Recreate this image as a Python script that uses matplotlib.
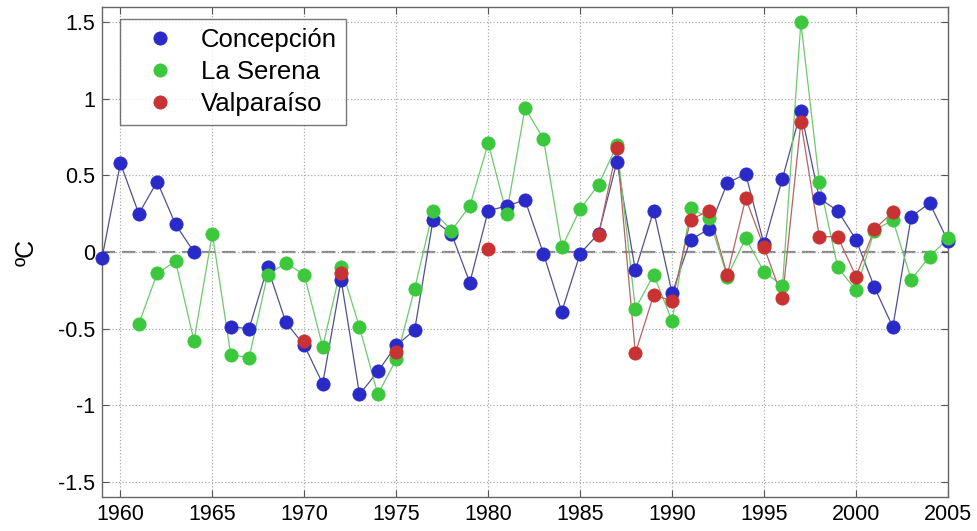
#!/usr/bin/env python3
"""Anomalias de temperatura - Concepción, La Serena, Valparaíso."""
import numpy as np
import matplotlib
matplotlib.use("Agg")
import matplotlib.pyplot as plt

nan = np.nan

anos = list(range(1959, 2006))

concepcion = [
    -0.04, 0.58, 0.25, 0.46, 0.18, 0.00, nan, -0.49, -0.50, -0.10,
    -0.46, -0.61, -0.86, -0.18, -0.93, -0.78, -0.61, -0.51, 0.21, 0.12,
    -0.20, 0.27, 0.30, 0.34, -0.01, -0.39, -0.01, 0.12, 0.59, -0.12,
    0.27, -0.27, 0.08, 0.15, 0.45, 0.51, 0.05, 0.48, 0.92, 0.35,
    0.27, 0.08, -0.23, -0.49, 0.23, 0.32, 0.07,
]

la_serena = [
    nan, nan, -0.47, -0.14, -0.06, -0.58, 0.12, -0.67, -0.69, -0.15,
    -0.07, -0.15, -0.62, -0.10, -0.49, -0.93, -0.70, -0.24, 0.27, 0.14,
    0.30, 0.71, 0.25, 0.94, 0.74, 0.03, 0.28, 0.44, 0.70, -0.37,
    -0.15, -0.45, 0.29, 0.22, -0.16, 0.09, -0.13, -0.22, 1.50, 0.46,
    -0.10, -0.25, 0.14, 0.21, -0.18, -0.03, 0.09,
]

valparaiso = [
    nan, nan, nan, nan, nan, nan, nan, nan, nan, nan,
    nan, -0.58, nan, -0.14, nan, nan, -0.65, nan, nan, nan,
    nan, 0.02, nan, nan, nan, nan, nan, 0.11, 0.68, -0.66,
    -0.28, -0.32, 0.21, 0.27, -0.15, 0.35, 0.03, -0.30, 0.85, 0.10,
    0.10, -0.16, 0.15, 0.26, nan, nan, nan,
]

series = [
    ("Concepción", concepcion, "#2a2ac8", "#50508c"),
    ("La Serena", la_serena, "#3cc83c", "#6ec86e"),
    ("Valparaíso", valparaiso, "#c83232", "#b46464"),
]


def main() -> None:
    plt.rcParams["font.family"] = ["Liberation Sans", "DejaVu Sans"]
    fig = plt.figure(figsize=(9.77, 5.31), dpi=100)
    ax = fig.add_axes([102 / 977, 1 - 497 / 531, 846 / 977, 490 / 531])

    for nome, valores, cor, cor_linha in series:
        v = np.array(valores, dtype=float)
        ax.plot(anos, v, "-", color=cor_linha, lw=0.9, zorder=2)
        ax.plot(anos, v, "o", color=cor, markersize=9.5,
                markeredgecolor=cor, markeredgewidth=0.6,
                label=nome, zorder=3, clip_on=False)

    ax.axhline(0, color="#888888", ls=(0, (6, 3)), lw=1.6, zorder=1)

    ax.set_xlim(1959, 2005)
    ax.set_ylim(-1.6, 1.6)
    ax.set_xticks(range(1960, 2006, 5))
    ax.set_yticks([-1.5, -1, -0.5, 0, 0.5, 1, 1.5])
    ax.set_yticklabels(["-1.5", "-1", "-0.5", "0", "0.5", "1", "1.5"])
    ax.grid(True, ls=":", color="#aaaaaa", lw=0.9)
    ax.tick_params(direction="in", top=True, right=True, length=5,
                   labelsize=15.5, color="#555555", pad=5)
    for s in ax.spines.values():
        s.set_color("#666666")
        s.set_linewidth(1.0)
    ax.set_ylabel("ºC", fontsize=18, labelpad=14)

    leg = ax.legend(loc="upper left", bbox_to_anchor=(18 / 846, 1 - 12 / 490),
                    fontsize=18.5, frameon=True, fancybox=False,
                    handletextpad=0.4, borderpad=0.35, labelspacing=0.32,
                    handlelength=2.4, borderaxespad=0)
    leg.get_frame().set_edgecolor("#555555")
    leg.get_frame().set_linewidth(1.0)

    fig.savefig("out.png", dpi=100)


if __name__ == "__main__":
    main()
